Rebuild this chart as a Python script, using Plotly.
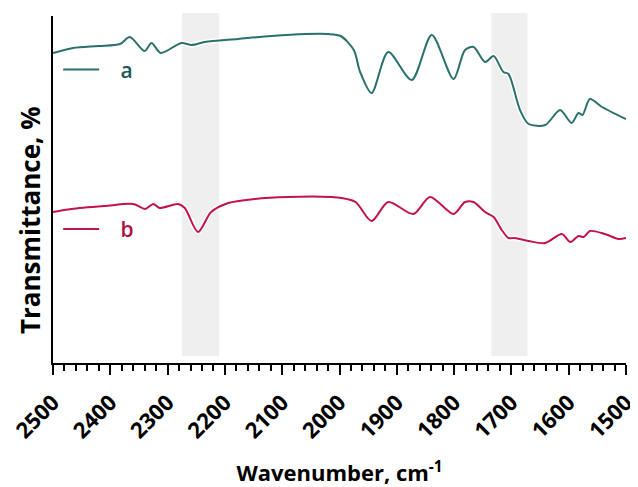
import plotly.graph_objects as go

# Spectrum a (teal)
a_x = [2500, 2465, 2421, 2383, 2366, 2340, 2328, 2312, 2276, 2258, 2235, 2177, 2119, 2060, 2020,
       1998, 1975, 1964, 1944, 1915, 1874, 1839, 1801, 1781, 1766, 1746, 1731, 1714, 1705, 1685,
       1670, 1641, 1615, 1595, 1583, 1576, 1563, 1542, 1500]
a_y = [310, 315, 317, 319, 326, 312, 320, 310, 320, 318, 321, 324, 327, 329, 329,
       327, 313, 291, 270, 311, 283, 328, 284, 313, 316, 301, 307, 291, 289, 253,
       239, 238, 253, 240, 250, 248, 264, 256, 244]

# Spectrum b (crimson)
b_x = [2500, 2468, 2410, 2360, 2339, 2325, 2314, 2282, 2270, 2247, 2224, 2194, 2148, 2090, 2014,
       1996, 1972, 1944, 1915, 1871, 1842, 1801, 1781, 1766, 1746, 1731, 1717, 1705, 1694,
       1670, 1641, 1612, 1597, 1583, 1574, 1563, 1537, 1513, 1500]
b_y = [151, 154, 157, 159, 154, 159, 155, 159, 155, 131, 151, 160, 164, 166, 166,
       165, 161, 142, 161, 149, 166, 149, 161, 161, 151, 146, 133, 125, 125,
       122, 120, 129, 121, 127, 126, 132, 129, 124, 125]

bands = [(2275, 2210), (1735, 1672)]
x_ticks = [2500, 2400, 2300, 2200, 2100, 2000, 1900, 1800, 1700, 1600, 1500]

teal = "#2A716D"
crimson = "#C4124A"
font = "Open Sans"
NB = "\u00a0"

fig = go.Figure()
for xs, ys in [(a_x, a_y), (b_x, b_y)]:
    fig.add_trace(go.Scatter(x=xs, y=ys, mode="lines", line=dict(color="white", width=5, shape="spline", smoothing=0.8),
                             showlegend=False, hoverinfo="skip"))
fig.add_trace(go.Scatter(x=a_x, y=a_y, mode="lines", name=NB * 3 + "a", legend="legend",
                         line=dict(color=teal, width=2, shape="spline", smoothing=0.8)))
fig.add_trace(go.Scatter(x=b_x, y=b_y, mode="lines", name=NB * 3 + "b", legend="legend2",
                         line=dict(color=crimson, width=2, shape="spline", smoothing=0.8)))

for x0, x1 in bands:
    fig.add_shape(type="rect", xref="x", yref="paper", x0=x0, x1=x1, y0=7 / 347, y1=350 / 347,
                  fillcolor="#EFEFEF", line=dict(width=0), layer="below")

fig.add_annotation(text="<b>Transmittance, %</b>", xref="paper", yref="paper", x=-0.040, y=0.412,
                   xanchor="center", yanchor="middle", textangle=-90, showarrow=False,
                   font=dict(size=26, family=font, color="black"))

# page body has an 8px margin, so the figure is 8px smaller than the window
fig.update_layout(
    width=630, height=479,
    margin=dict(l=45, r=12, t=8, b=124),
    paper_bgcolor="white", plot_bgcolor="white",
    font=dict(family=font, size=16, color="black"),
    legend=dict(x=0.009, y=0.845, xanchor="left", yanchor="middle", bgcolor="rgba(0,0,0,0)",
                font=dict(size=21, color="#1D5B58", family=font, weight=600), itemwidth=36),
    legend2=dict(x=0.009, y=0.385, xanchor="left", yanchor="middle", bgcolor="rgba(0,0,0,0)",
                 font=dict(size=21, color="#B00E40", family=font, weight=600), itemwidth=36),
    xaxis=dict(range=[2500, 1500], tickvals=x_ticks, ticktext=[str(v) for v in x_ticks],
               tickangle=-45, ticks="outside", ticklen=10, tickwidth=2, tickcolor="black",
               minor=dict(dtick=20, ticks="outside", ticklen=6, tickwidth=2, tickcolor="black"),
               showline=True, linecolor="black", linewidth=2, showgrid=False, zeroline=False,
               automargin=False, ticklabelstandoff=6, ticklabeloverflow="allow",
               tickfont=dict(size=22, family=font, weight="bold"),
               title=dict(text="<b>Wavenumber, cm<sup>-1</sup></b>", font=dict(size=22, family=font), standoff=27)),
    yaxis=dict(range=[0, 347], showticklabels=False, ticks="", showline=True, linecolor="black",
               linewidth=2, showgrid=False, zeroline=False, automargin=False),
)

fig.write_html("out.html")
